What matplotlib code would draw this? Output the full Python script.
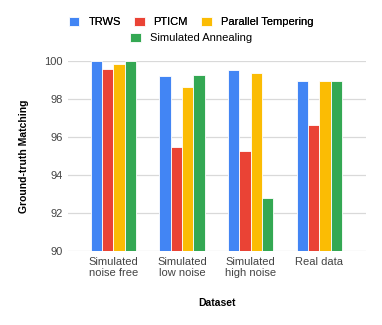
import numpy as np
import matplotlib.pyplot as plt

plt.rcParams['font.family'] = ['Liberation Sans', 'DejaVu Sans']

datasets = ['Simulated\nnoise free', 'Simulated\nlow noise', 'Simulated\nhigh noise', 'Real data']
methods = ['TRWS', 'PTICM', 'Parallel Tempering', 'Simulated Annealing']
trws = [99.98, 99.20, 99.51, 98.97]
pticm = [99.56, 95.46, 95.28, 96.62]
ptemp = [99.84, 98.65, 99.39, 98.93]
sanneal = [99.98, 99.24, 92.79, 98.97]
colors = ['#4285F4', '#EA4335', '#FBBC04', '#34A853']

series = [trws, pticm, ptemp, sanneal]

fig = plt.figure(figsize=(3.82, 3.25), dpi=100)
ax = fig.add_axes([68 / 382, 1 - 251 / 325, 298 / 382, 190 / 325])

x = np.arange(len(datasets))
w = 0.165
handles = []
for i, (vals, c) in enumerate(zip(series, colors)):
    b = ax.bar(x + (i - 1.5) * w, np.array(vals) - 90, w, bottom=90, color=c,
               edgecolor='white', linewidth=0.6, zorder=3)
    handles.append(b)

ax.set_ylim(90, 100)
ax.set_xlim(-0.66, 3.68)
ax.set_yticks(range(90, 101, 2))
ax.set_xticks(x)
ax.set_xticklabels(datasets)
ax.grid(axis='y', color='#d9d9d9', linewidth=0.9, zorder=0)
for s in ax.spines.values():
    s.set_visible(False)
ax.tick_params(length=0, labelsize=8, colors='#444444')
ax.tick_params(axis='y', pad=4)
ax.tick_params(axis='x', pad=4)
ax.set_ylabel('Ground-truth Matching', fontsize=7.5, fontweight='bold', labelpad=11)
ax.set_xlabel('Dataset', fontsize=7.5, fontweight='bold', labelpad=14)

legkw = dict(frameon=False, fontsize=8, handlelength=0.95, handleheight=0.95,
             handletextpad=0.8, borderpad=0)
leg1 = fig.legend(handles[:3], methods[:3], loc='center', bbox_to_anchor=(0.5, 1 - 22 / 325),
                  ncol=3, columnspacing=1.2, **legkw)
fig.add_artist(leg1)
fig.legend(handles[3:], methods[3:], loc='center', bbox_to_anchor=(0.5, 1 - 38 / 325),
           ncol=1, **legkw)

fig.savefig('out.png', dpi=100)
